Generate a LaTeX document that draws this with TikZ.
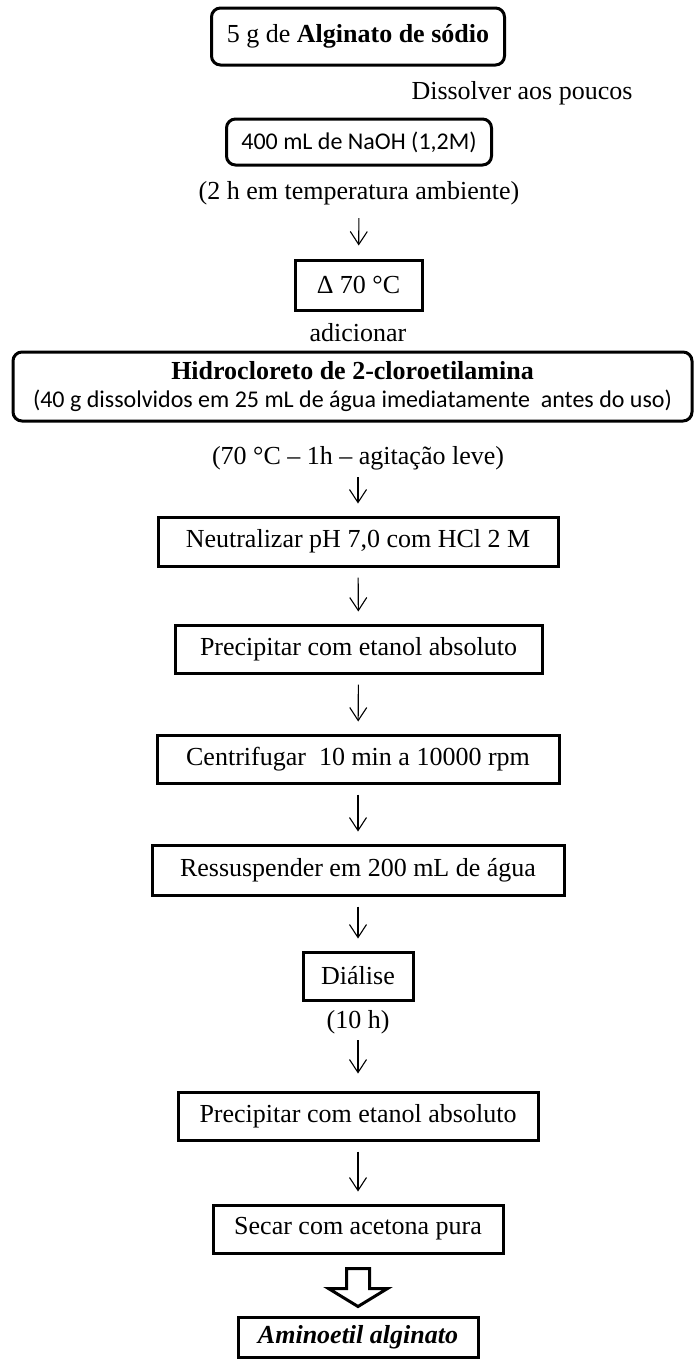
\documentclass[tikz,border=0pt]{standalone}
\usepackage{fontspec}
\setmainfont{Liberation Serif}
\newfontfamily\calfont{Carlito}
\usetikzlibrary{arrows.meta,calc}
\newcommand{\bigfont}{\fontsize{26}{28}\selectfont}
\newcommand{\calsize}{\calfont\fontsize{24}{28}\selectfont}

\begin{document}
\begin{tikzpicture}[x=1pt,y=-1pt,
  lbl/.style={inner sep=0pt, font=\bigfont, text height=19pt, text depth=6pt},
  sbox/.style={draw, line width=3pt, inner sep=0pt, font=\bigfont, align=center},
  rbox/.style={sbox, rounded corners=9pt},
  flow/.style={-{Straight Barb[length=13pt,width=17pt]}, line width=1.1pt, shorten <=10pt, shorten >=12pt}]
\useasboundingbox (0,0) rectangle (694,1360);
\node[rbox, minimum width=293pt, minimum height=57pt] (alg) at (358,36.5) {5 g de \textbf{Alginato de sódio}};
\node[lbl] (dissolve) at (522,93) {Dissolver aos poucos};
\node[rbox, minimum width=265pt, minimum height=46pt, font=\calsize] (naoh) at (359,142) {400 mL de NaOH (1,2M)};
\node[lbl] (twoh) at (359,193) {(2 h em temperatura ambiente)};
\node[sbox, minimum width=127pt, minimum height=50pt] (delta) at (358.5,285) {Δ 70 °C};
\node[lbl] (add) at (358,335) {adicionar};
\node[rbox, minimum width=679pt, minimum height=69pt] (hcl) at (352.5,386.5) {\textbf{Hidrocloreto de 2-cloroetilamina}\\{\calsize (40 g dissolvidos em 25 mL de água imediatamente\ \ antes do uso)}};
\node[lbl] (heat) at (358,458) {(70 °C – 1h – agitação leve)};
\node[sbox, minimum width=400pt, minimum height=49pt] (neut) at (358,541.5) {Neutralizar pH 7,0 com HCl 2 M};
\node[sbox, minimum width=367pt, minimum height=48pt] (prec1) at (358.5,649) {Precipitar com etanol absoluto};
\node[sbox, minimum width=402pt, minimum height=48pt] (cent) at (358,759) {Centrifugar\ \ 10 min a 10000 rpm};
\node[sbox, minimum width=412pt, minimum height=50pt] (ress) at (358,870) {Ressuspender em 200 mL de água};
\node[sbox, minimum width=110pt, minimum height=48pt] (dial) at (358,976) {Diálise};
\node[lbl] (tenh) at (358,1022) {(10 h)};
\node[sbox, minimum width=360pt, minimum height=48pt] (prec2) at (358,1116) {Precipitar com etanol absoluto};
\node[sbox, minimum width=290pt, minimum height=48pt] (dry) at (358,1229) {Secar com acetona pura};
\node[sbox, minimum width=240pt, minimum height=40pt] (amino) at (358,1337) {\textbf{\textit{Aminoetil alginato}}};
\draw[flow, shorten <=12.5pt, shorten >=13pt] (twoh) -- (delta);
\draw[flow, shorten <=6.5pt] (heat) -- (neut);
\draw[flow] (neut) -- (prec1);
\draw[flow] (prec1) -- (cent);
\draw[flow] (cent) -- (ress);
\draw[flow] (ress) -- (dial);
\draw[flow, shorten <=5.5pt, shorten >=17pt] (tenh) -- (prec2);
\draw[flow] (prec2) -- (dry);
\draw[line width=3pt] ($(dry.south)+(-11.5,14)$) -- ++(23,0) -- ++(0,20) -- ++(18,0)
  -- ($(amino.north)+(0,-9)$) -- ($(dry.south)+(-29.5,34)$) -- ++(18,0) -- cycle;
\end{tikzpicture}
\end{document}
